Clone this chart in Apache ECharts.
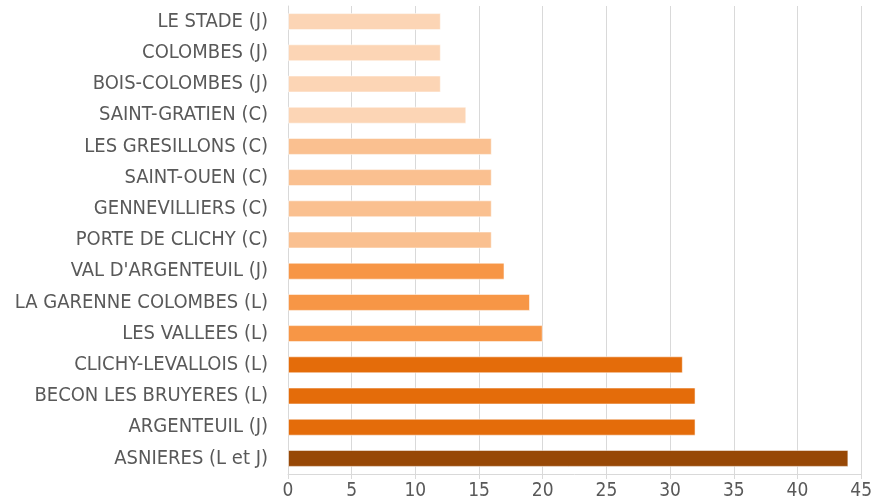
<!DOCTYPE html>
<html>
<head>
<meta charset="utf-8">
<script src="https://cdn.jsdelivr.net/npm/echarts@6/dist/echarts.min.js"></script>
<style>
  html, body { margin: 0; padding: 0; background: #fff; }
  #chart { width: 875px; height: 504px; }
</style>
</head>
<body>
<div id="chart"></div>
<script>
// categories from bottom to top
const stations = [
  "ASNIERES (L et J)",
  "ARGENTEUIL (J)",
  "BECON LES BRUYERES (L)",
  "CLICHY-LEVALLOIS (L)",
  "LES VALLEES (L)",
  "LA GARENNE COLOMBES (L)",
  "VAL D'ARGENTEUIL (J)",
  "PORTE DE CLICHY (C)",
  "GENNEVILLIERS (C)",
  "SAINT-OUEN (C)",
  "LES GRESILLONS (C)",
  "SAINT-GRATIEN (C)",
  "BOIS-COLOMBES (J)",
  "COLOMBES (J)",
  "LE STADE (J)"
];
const values = [44, 32, 32, 31, 20, 19, 17, 16, 16, 16, 16, 14, 12, 12, 12];
const barColors = [
  "#974806",
  "#e46c0a", "#e46c0a", "#e46c0a",
  "#f79646", "#f79646", "#f79646",
  "#fac090", "#fac090", "#fac090", "#fac090",
  "#fcd5b5", "#fcd5b5", "#fcd5b5", "#fcd5b5"
];

const font = "'DejaVu Sans Condensed', 'Liberation Sans', sans-serif";

const myChart = echarts.init(document.getElementById("chart"));
const option = {
  animation: false,
  grid: {
    left: 288,
    right: 12,
    top: 6,
    bottom: 30,
    containLabel: false
  },
  xAxis: {
    type: "value",
    min: 0,
    max: 45,
    interval: 5,
    axisLine: { show: true, lineStyle: { color: "#d9d9d9", width: 1 } },
    axisTick: { show: true, length: 5, lineStyle: { color: "#d9d9d9" } },
    axisLabel: { color: "#595959", fontSize: 19, fontFamily: font, margin: 8 },
    splitLine: { show: true, lineStyle: { color: "#d9d9d9", width: 1 } }
  },
  yAxis: {
    type: "category",
    data: stations,
    axisLine: { show: true, lineStyle: { color: "#d9d9d9", width: 1 } },
    axisTick: { show: false },
    axisLabel: { color: "#595959", fontSize: 20, fontFamily: font, margin: 20 }
  },
  series: [
    {
      type: "bar",
      barWidth: 17,
      data: values.map((v, i) => ({
        value: v,
        itemStyle: { color: barColors[i] }
      })),
      itemStyle: { borderColor: "rgba(255,255,255,0.55)", borderWidth: 1 }
    }
  ]
};
myChart.setOption(option);
</script>
</body>
</html>
